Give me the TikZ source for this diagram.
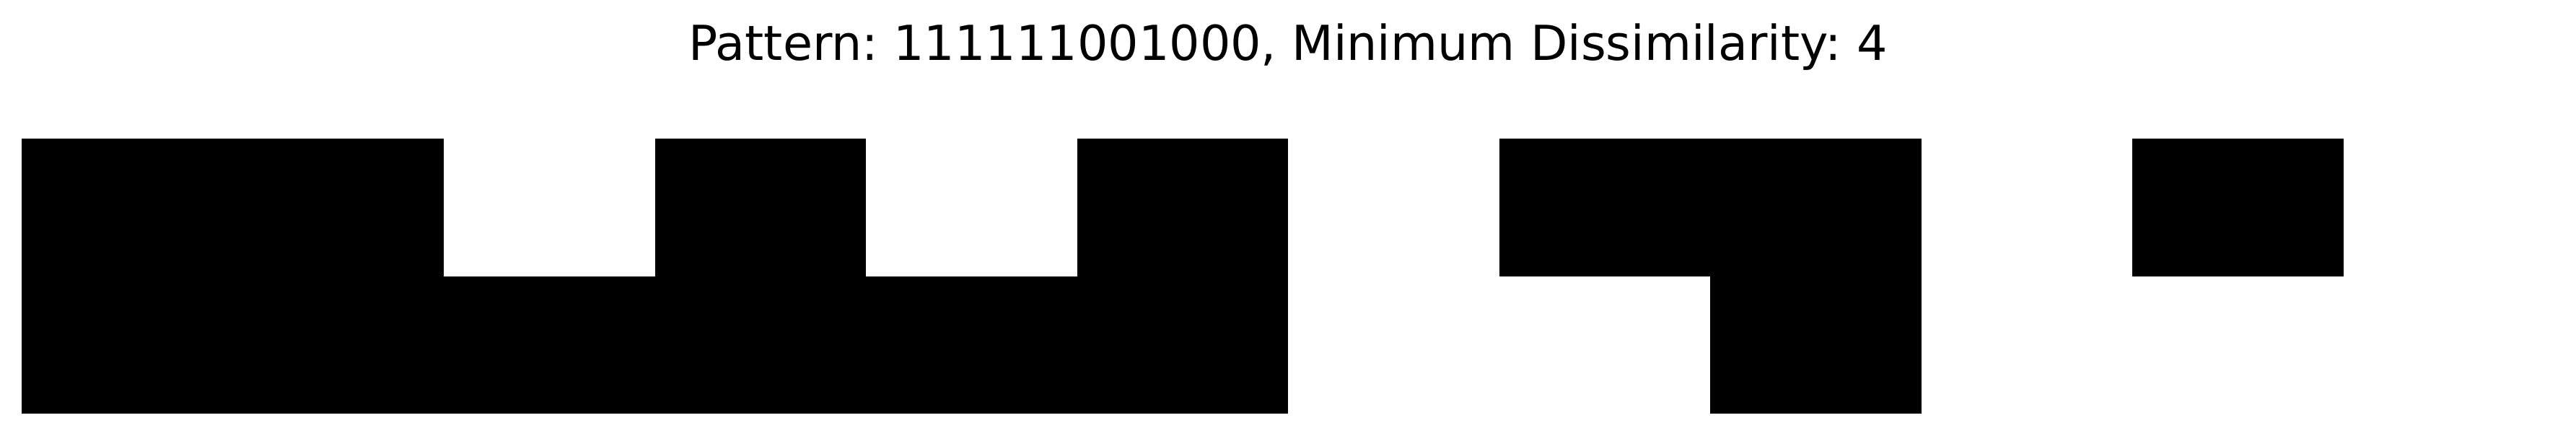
\documentclass[tikz,border=0pt]{standalone}
\usepackage{fontspec}
\setmainfont{DejaVu Sans}
\frenchspacing
\usetikzlibrary{positioning, math, calc}

\begin{document}
\begin{tikzpicture}
		\tikzmath{
			\cellW       = 29.25;   %cell width
			\cellH       = 19.05;   %cell height
		}
		\tikzstyle{Base} = [
			inner sep=0pt,
			outer sep=0pt,
			minimum width=\cellW mm, 
			minimum height=\cellH mm, 
		]
		\tikzstyle{LightCell} = [
			fill= white,
			Base
		]
		\tikzstyle{DarkCell} = [
			fill= black,
			Base
		]
		\useasboundingbox (0,0) rectangle (35.70,-6.03);
		
		%%%%%%%%%%%%%%%%%%%%%%%%%%===---TITLE---===%%%%%%%%%%%%%%%%%%%%%%%%%%
		\node (title) [anchor=base, inner sep=0pt] at (17.85,-0.83) {\fontsize{19}{23}\selectfont Pattern: 111111001000, Minimum Dissimilarity: 4};
		%%%%%%%%%%%%%%%%%%%%%%%%%%===---FIRST ROW---===%%%%%%%%%%%%%%%%%%%%%%%%%%
		\node (t1) [DarkCell] at (1.7625,-2.8725) {};
			\node (t2) [DarkCell, right = 0mm of t1]{};
			\node (t3) [LightCell, right = 0mm of t2]{};
			\node (t4) [DarkCell, right = 0mm of t3]{};
			\node (t5) [LightCell, right = 0mm of t4]{};
			\node (t6) [DarkCell, right = 0mm of t5]{};
			\node (t7) [LightCell, right = 0mm of t6]{};
			\node (t8) [DarkCell, right = 0mm of t7]{};
			\node (t9) [DarkCell, right = 0mm of t8]{};
			\node (t10) [LightCell, right = 0mm of t9]{};
			\node (t11) [DarkCell, right = 0mm of t10]{};
			\node (t12) [LightCell, right = 0mm of t11]{};
		%%%%%%%%%%%%%%%%%%%%%%%%%%===---SECOND ROW---===%%%%%%%%%%%%%%%%%%%%%%%%%%
		\node (b1) [DarkCell, below = 0mm of t1]{};
			\node (b2) [DarkCell, right = 0mm of b1]{};
			\node (b3) [DarkCell, right = 0mm of b2]{};
			\node (b4) [DarkCell, right = 0mm of b3]{};
			\node (b5) [DarkCell, right = 0mm of b4]{};
			\node (b6) [DarkCell, right = 0mm of b5]{};
			\node (b7) [LightCell, right = 0mm of b6]{};
			\node (b8) [LightCell, right = 0mm of b7]{};
			\node (b9) [DarkCell, right = 0mm of b8]{};
			\node (b10) [LightCell, right = 0mm of b9]{};
			\node (b11) [LightCell, right = 0mm of b10]{};
			\node (b12) [LightCell, right = 0mm of b11]{};
		
	\end{tikzpicture}
\end{document}
